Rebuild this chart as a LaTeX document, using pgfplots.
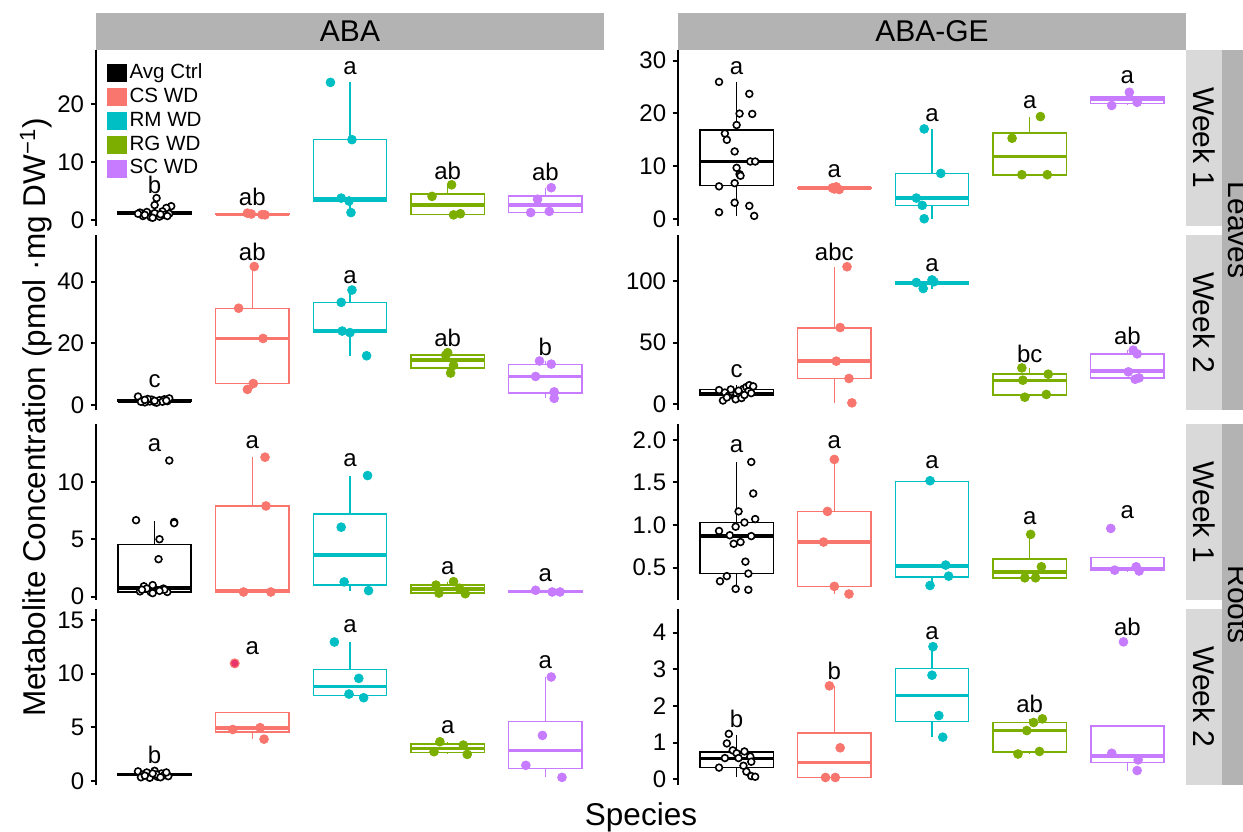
\documentclass[border=0pt]{standalone}
\usepackage{fontspec}
\setmainfont{Liberation Sans}
\usepackage{pgfplots}
\pgfplotsset{compat=1.18}
\usepgfplotslibrary{statistics}

\definecolor{cCS}{HTML}{F8766D}
\definecolor{cRM}{HTML}{00BFC4}
\definecolor{cRG}{HTML}{7CAE00}
\definecolor{cSC}{HTML}{C77CFF}
\definecolor{cOut}{HTML}{E8336D}
\definecolor{stripA}{HTML}{B3B3B3}
\definecolor{stripB}{HTML}{D9D9D9}

\pgfplotsset{
  panel/.style={
    scale only axis, width=254pt, height=87.875pt,
    xmin=0.4, xmax=5.6, anchor=south west, clip=false,
    axis y line*=left, axis x line=none,
    axis line style={line width=1pt, black, -},
    xtick=\empty,
    tick align=outside, major tick length=2.75pt,
    ytick style={line width=1pt, black},
    yticklabel style={font=\fontsize{12}{14}\selectfont, inner sep=0pt, xshift=-3pt},
    /pgf/number format/assume math mode=true,
  },
  bottompanel/.style={panel, axis x line*=bottom},
  ctrl/.style={only marks, mark=*, mark size=1.7pt, mark options={draw=black, fill=white, line width=0.8pt}},
  col/.style={only marks, mark=*, mark size=2.2pt, mark options={draw=#1, fill=#1}},
}
\newcommand{\bx}[7]{\addplot[draw=#1, fill=white, line width=0.75pt, boxplot/draw direction=y, boxplot/every median/.style={line width=1.7pt},
  boxplot prepared={draw position=#2, lower whisker=#3, lower quartile=#4, median=#5, upper quartile=#6, upper whisker=#7, box extend=0.75, whisker extend=0}] coordinates {};}
\newcommand{\lt}[3]{\node[font=\fontsize{12}{14}\selectfont] at (axis cs:#1,#2) {#3};}

\begin{document}
\begin{tikzpicture}
\useasboundingbox (0,0) rectangle (621.5pt,415.5pt);

% ---------- strips ----------
\fill[stripA] (48pt,390.5pt) rectangle (302pt,409.15pt);
\fill[stripA] (339pt,390.5pt) rectangle (593pt,409.15pt);
\fill[stripB] (593pt,302.625pt) rectangle (611pt,390.5pt);
\fill[stripB] (593pt,210.25pt) rectangle (611pt,298.125pt);
\fill[stripB] (593pt,115.375pt) rectangle (611pt,203.25pt);
\fill[stripB] (593pt,23pt) rectangle (611pt,110.875pt);
\fill[stripA] (611pt,210.25pt) rectangle (631pt,390.5pt);
\fill[stripA] (611pt,23pt) rectangle (631pt,203.25pt);

% ---------- ABA, Leaves, Week 1 ----------
\begin{axis}[panel, at={(48pt,302.625pt)}, ymin=-0.98, ymax=29.4, ytick={0,10,20},
  legend style={at={(axis description cs:0.02,0.93)}, anchor=north west, draw=none, fill=none, inner sep=0pt,
    row sep=1.2pt, column sep=1pt, font=\fontsize{10.3}{12}\selectfont,
    nodes={inner sep=0.5pt, text height=7.5pt, text depth=2.2pt}},
  legend cell align=left,
  legend image code/.code={\fill[#1] (0pt,-4.5pt) rectangle (10pt,4.5pt);}]
\addlegendimage{fill=black, draw=none}\addlegendentry{Avg Ctrl}
\addlegendimage{fill=cCS, draw=none}\addlegendentry{CS WD}
\addlegendimage{fill=cRM, draw=none}\addlegendentry{RM WD}
\addlegendimage{fill=cRG, draw=none}\addlegendentry{RG WD}
\addlegendimage{fill=cSC, draw=none}\addlegendentry{SC WD}
\bx{black}{1}{0.4}{0.95}{1.2}{1.5}{2.5}
\bx{cCS}{2}{0.9}{0.95}{1.0}{1.05}{1.2}
\bx{cRM}{3}{1.3}{3.3}{3.7}{13.9}{23.8}
\bx{cRG}{4}{0.9}{1.0}{2.6}{4.55}{6.1}
\bx{cSC}{5}{1.3}{1.35}{2.6}{4.15}{5.6}
\addplot[ctrl] coordinates {(1.02,3.8) (1.0,2.6) (1.17,2.4) (1.12,2.1) (0.85,1.3) (1.08,1.5) (0.95,1.0) (0.88,0.7) (0.96,0.5) (1.1,0.9) (1.15,1.1) (0.92,1.4) (1.05,0.6) (0.83,1.1) (1.13,0.7) (1.0,1.2) (0.9,0.9) (1.06,1.0) (0.98,0.4)};
\addplot[col=cCS] coordinates {(1.95,1.2) (1.99,1.05) (2.1,0.95) (2.13,0.9)};
\addplot[col=cRM] coordinates {(2.8,23.8) (3.02,13.9) (2.91,3.8) (2.99,3.3) (3.01,1.3)};
\addplot[col=cRG] coordinates {(4.04,6.1) (3.84,4.1) (4.06,0.9) (4.13,1.1)};
\addplot[col=cSC] coordinates {(5.06,5.6) (4.92,3.6) (4.85,1.3) (5.04,1.5)};
\lt{1}{6.0}{b}\lt{2}{4.0}{ab}\lt{3}{26.2}{a}\lt{4}{8.5}{ab}\lt{5}{8.4}{ab}
\end{axis}

% ---------- ABA, Leaves, Week 2 ----------
\begin{axis}[panel, at={(48pt,210.25pt)}, ymin=-1.73, ymax=55.2, ytick={0,20,40}]
\bx{black}{1}{0.8}{1.2}{1.4}{1.7}{2.8}
\bx{cCS}{2}{5.1}{7.0}{21.6}{31.3}{44.9}
\bx{cRM}{3}{16.0}{23.5}{24.2}{33.3}{37.3}
\bx{cRG}{4}{10.4}{12.1}{14.6}{16.2}{17.0}
\bx{cSC}{5}{2.2}{4.0}{9.3}{13.2}{14.3}
\addplot[ctrl] coordinates {(0.83,2.8) (0.88,1.5) (0.95,1.2) (1.0,1.0) (1.05,1.6) (1.1,1.9) (1.13,1.3) (0.9,0.9) (0.97,1.8) (1.08,1.1) (1.15,2.2) (0.86,1.1) (1.02,0.8) (0.93,2.0) (1.12,1.5) (1.0,1.4) (0.9,1.7)};
\addplot[col=cCS] coordinates {(2.02,44.9) (1.86,31.4) (2.11,21.6) (2.01,7.0) (1.95,5.1)};
\addplot[col=cRM] coordinates {(3.02,37.3) (2.91,33.3) (2.92,24.0) (3.0,23.5) (3.17,16.0)};
\addplot[col=cRG] coordinates {(4.0,17.0) (3.98,16.2) (4.06,12.9) (4.03,10.4)};
\addplot[col=cSC] coordinates {(4.94,14.3) (5.06,13.3) (4.9,9.3) (5.09,4.3) (5.09,2.2)};
\lt{1}{7.9}{c}\lt{2}{49.7}{ab}\lt{3}{41.6}{a}\lt{4}{21.9}{ab}\lt{5}{18.9}{b}
\end{axis}

% ---------- ABA, Roots, Week 1 ----------
\begin{axis}[panel, at={(48pt,115.375pt)}, ymin=-0.32, ymax=15.0, ytick={0,5,10}]
\bx{black}{1}{0.3}{0.4}{0.76}{4.53}{6.6}
\bx{cCS}{2}{0.4}{0.4}{0.5}{7.9}{12.15}
\bx{cRM}{3}{0.52}{1.02}{3.63}{7.18}{10.55}
\bx{cRG}{4}{0.25}{0.3}{0.67}{1.0}{1.3}
\bx{cSC}{5}{0.35}{0.38}{0.42}{0.48}{0.55}
\addplot[ctrl] coordinates {(1.15,11.86) (0.81,6.66) (1.2,6.5) (1.2,6.4) (1.05,5.0) (1.04,3.26) (0.89,0.9) (0.98,1.0) (1.09,0.7) (1.13,0.4) (0.96,0.4) (0.85,0.45) (0.92,0.7) (1.1,0.6) (0.87,0.6) (0.98,0.3) (1.05,0.5)};
\addplot[col=cCS] coordinates {(2.13,12.15) (2.14,7.9) (1.91,0.4) (2.19,0.4)};
\addplot[col=cRM] coordinates {(3.18,10.55) (2.91,6.05) (2.94,1.28) (3.19,0.52)};
\addplot[col=cRG] coordinates {(4.06,1.3) (3.88,1.0) (4.12,0.73) (3.91,0.3) (4.18,0.25)};
\addplot[col=cSC] coordinates {(4.9,0.55) (5.07,0.4) (5.15,0.4)};
\lt{1}{13.2}{a}\lt{2}{13.5}{a}\lt{3}{11.9}{a}\lt{4}{2.47}{a}\lt{5}{1.9}{a}
\end{axis}

% ---------- ABA, Roots, Week 2 ----------
\begin{axis}[bottompanel, at={(48pt,23pt)}, ymin=-0.37, ymax=16.0, ytick={0,5,10,15}]
\bx{black}{1}{0.3}{0.5}{0.6}{0.7}{0.95}
\bx{cCS}{2}{3.95}{4.56}{4.94}{6.4}{6.4}
\bx{cRM}{3}{7.76}{7.98}{8.82}{10.37}{12.95}
\bx{cRG}{4}{2.48}{2.67}{3.04}{3.45}{3.66}
\bx{cSC}{5}{0.34}{1.18}{2.86}{5.56}{9.69}
\addplot[ctrl] coordinates {(0.83,0.9) (0.88,0.6) (0.92,0.8) (0.97,0.5) (1.0,0.95) (1.03,0.4) (1.07,0.7) (1.1,0.55) (1.14,0.45) (0.86,0.35) (0.95,0.3) (1.02,0.6) (0.9,0.5) (1.12,0.8) (0.98,0.7) (1.06,0.35)};
\addplot[col=cCS] coordinates {(1.8,4.8) (2.08,4.97) (2.12,3.9)};
\addplot[only marks, mark=*, mark size=2.2pt, mark options={draw=cCS, fill=cOut, line width=0.6pt}] coordinates {(1.82,10.96)};
\addplot[col=cRM] coordinates {(2.84,12.95) (3.09,9.56) (2.99,8.1) (3.14,7.76)};
\addplot[col=cRG] coordinates {(3.92,3.66) (4.16,3.35) (3.86,2.73) (4.2,2.48)};
\addplot[col=cSC] coordinates {(5.06,9.69) (4.97,4.25) (4.8,1.46) (5.17,0.34)};
\lt{1}{2.4}{b}\lt{2}{12.36}{a}\lt{3}{14.4}{a}\lt{4}{5.06}{a}\lt{5}{11.1}{a}
\end{axis}

% ---------- ABA-GE, Leaves, Week 1 ----------
\begin{axis}[panel, at={(339pt,302.625pt)}, ymin=-1.26, ymax=32.0, ytick={0,10,20,30}]
\bx{black}{1}{0.6}{6.4}{10.9}{16.9}{25.9}
\bx{cCS}{2}{5.5}{5.75}{5.85}{5.95}{6.1}
\bx{cRM}{3}{0.06}{2.6}{3.98}{8.6}{17.06}
\bx{cRG}{4}{8.34}{8.34}{11.8}{16.3}{19.4}
\bx{cSC}{5}{21.5}{21.9}{22.6}{23.1}{24.0}
\addplot[ctrl] coordinates {(0.82,25.96) (1.13,23.7) (1.03,19.96) (1.16,19.9) (1.0,17.8) (0.88,16.2) (0.9,15.0) (0.98,12.8) (1.14,10.9) (1.19,10.9) (1.0,9.7) (1.03,8.5) (1.04,8.2) (0.98,6.8) (0.82,6.2) (0.98,3.1) (1.13,2.5) (0.82,1.3) (1.18,0.6)};
\addplot[col=cCS] coordinates {(1.98,5.9) (2.02,6.1) (2.05,5.6) (2.0,5.7)};
\addplot[col=cRM] coordinates {(2.92,17.06) (3.09,8.65) (2.84,3.98) (2.9,2.6) (2.92,0.06)};
\addplot[col=cRG] coordinates {(4.11,19.4) (3.82,15.3) (3.92,8.4) (4.18,8.4)};
\addplot[col=cSC] coordinates {(5.02,24.0) (4.84,21.5) (5.1,22.1)};
\lt{1}{28.6}{a}\lt{2}{9.1}{a}\lt{3}{19.7}{a}\lt{4}{22.2}{a}\lt{5}{26.8}{a}
\end{axis}

% ---------- ABA-GE, Leaves, Week 2 ----------
\begin{axis}[panel, at={(339pt,210.25pt)}, ymin=-5.1, ymax=137.7, ytick={0,50,100}]
\bx{black}{1}{2.7}{7.0}{8.9}{11.9}{16}
\bx{cCS}{2}{1.1}{20.9}{35.0}{62.1}{111.7}
\bx{cRM}{3}{94}{97.6}{98.6}{99.8}{101.6}
\bx{cRG}{4}{5.7}{7.3}{19.5}{24.4}{29.5}
\bx{cSC}{5}{20.3}{21.4}{27.1}{40.7}{43.9}
\addplot[ctrl] coordinates {(0.82,11.5) (0.88,9.5) (0.92,7) (0.95,10) (1.0,8.5) (1.03,6) (1.07,12.5) (1.1,14) (1.13,15.5) (1.17,14.5) (0.86,3) (0.99,4) (1.05,5) (1.12,10.5) (0.94,12) (1.02,11) (1.15,9) (0.9,5.5) (1.08,7.5)};
\addplot[col=cCS] coordinates {(2.13,111.7) (2.06,62.3) (2.02,35.0) (2.15,20.9) (2.18,1.1)};
\addplot[col=cRM] coordinates {(3.0,101) (2.84,98.9) (2.91,94) (3.02,99.5)};
\addplot[col=cRG] coordinates {(3.92,29.5) (4.19,24.4) (3.93,19.5) (4.17,7.9) (3.95,5.7)};
\addplot[col=cSC] coordinates {(5.06,43.9) (5.1,40.9) (5.01,26.3) (5.12,21.4) (5.08,20.3)};
\lt{1}{27}{c}\lt{2}{124}{abc}\lt{3}{113}{a}\lt{4}{41}{bc}\lt{5}{55.6}{ab}
\end{axis}

% ---------- ABA-GE, Roots, Week 1 ----------
\begin{axis}[panel, at={(339pt,115.375pt)}, ymin=0.117, ymax=2.18, ytick={0.5,1.0,1.5,2.0}, yticklabels={0.5,1.0,1.5,2.0}]
\bx{black}{1}{0.24}{0.43}{0.87}{1.03}{1.74}
\bx{cCS}{2}{0.19}{0.28}{0.80}{1.16}{1.77}
\bx{cRM}{3}{0.29}{0.39}{0.52}{1.51}{1.52}
\bx{cRG}{4}{0.38}{0.38}{0.45}{0.60}{0.89}
\bx{cSC}{5}{0.46}{0.465}{0.49}{0.62}{0.62}
\addplot[ctrl] coordinates {(1.15,1.74) (1.17,1.37) (1.02,1.16) (1.19,1.07) (1.08,1.03) (0.99,0.98) (0.82,0.93) (0.93,0.88) (1.15,0.87) (1.04,0.80) (0.97,0.78) (1.09,0.57) (1.12,0.43) (0.9,0.40) (0.83,0.34) (0.99,0.25) (1.12,0.24)};
\addplot[col=cCS] coordinates {(2.0,1.77) (1.93,1.16) (1.89,0.80) (2.0,0.28) (2.15,0.19)};
\addplot[col=cRM] coordinates {(2.98,1.52) (3.14,0.53) (3.17,0.40) (2.98,0.29)};
\addplot[col=cRG] coordinates {(4.01,0.89) (4.12,0.51) (3.95,0.38) (4.06,0.38)};
\addplot[col=cSC] coordinates {(4.83,0.96) (5.09,0.51) (4.87,0.47) (5.12,0.46)};
\lt{1}{1.92}{a}\lt{2}{1.97}{a}\lt{3}{1.74}{a}\lt{4}{1.08}{a}\lt{5}{1.15}{a}
\end{axis}

% ---------- ABA-GE, Roots, Week 2 ----------
\begin{axis}[bottompanel, at={(339pt,23pt)}, ymin=-0.155, ymax=4.64, ytick={0,1,2,3,4}]
\bx{black}{1}{0.07}{0.32}{0.57}{0.75}{1.21}
\bx{cCS}{2}{0.05}{0.05}{0.46}{1.27}{2.55}
\bx{cRM}{3}{1.15}{1.58}{2.28}{3.02}{3.62}
\bx{cRG}{4}{0.69}{0.75}{1.34}{1.55}{1.65}
\bx{cSC}{5}{0.24}{0.46}{0.64}{1.45}{1.45}
\addplot[ctrl] coordinates {(0.92,1.24) (0.9,0.98) (0.96,0.79) (1.08,0.76) (1.0,0.71) (0.88,0.58) (1.02,0.58) (1.14,0.62) (1.15,0.48) (0.82,0.32) (1.07,0.37) (1.1,0.21) (1.15,0.09) (1.19,0.07)};
\addplot[col=cCS] coordinates {(1.95,2.55) (2.06,0.86) (1.91,0.05) (2.01,0.05)};
\addplot[col=cRM] coordinates {(3.01,3.62) (3.0,2.84) (3.07,1.74) (3.11,1.15)};
\addplot[col=cRG] coordinates {(4.13,1.65) (4.04,1.55) (3.97,1.33) (4.1,0.76) (3.88,0.69)};
\addplot[col=cSC] coordinates {(4.96,3.75) (4.84,0.71) (5.11,0.53) (5.1,0.24)};
\lt{1}{1.64}{b}\lt{2}{2.95}{b}\lt{3}{3.98}{a}\lt{4}{2.07}{ab}\lt{5}{4.16}{ab}
\end{axis}

% ---------- strip texts and titles ----------
\node[font=\fontsize{15}{18}\selectfont] at (175pt,399.8pt) {ABA};
\node[font=\fontsize{15}{18}\selectfont] at (466pt,399.8pt) {ABA-GE};
\node[rotate=-90, font=\fontsize{15}{18}\selectfont] at (602pt,346.56pt) {Week 1};
\node[rotate=-90, font=\fontsize{15}{18}\selectfont] at (602pt,254.19pt) {Week 2};
\node[rotate=-90, font=\fontsize{15}{18}\selectfont] at (602pt,159.31pt) {Week 1};
\node[rotate=-90, font=\fontsize{15}{18}\selectfont] at (602pt,66.94pt) {Week 2};
\node[rotate=-90, font=\fontsize{15}{18}\selectfont] at (619.5pt,300.375pt) {Leaves};
\node[rotate=-90, font=\fontsize{15}{18}\selectfont] at (619.5pt,113.125pt) {Roots};
\node[rotate=90, font=\fontsize{15.75}{18}\selectfont] at (18pt,206.75pt) {Metabolite Concentration (pmol ·mg DW\textsuperscript{−1})};
\node[anchor=base, font=\fontsize{15.75}{18}\selectfont] at (320.5pt,3pt) {Species};
\end{tikzpicture}
\end{document}
